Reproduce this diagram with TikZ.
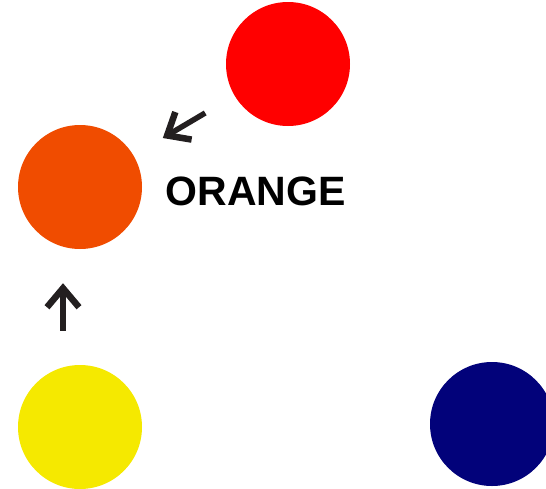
\documentclass[tikz,border=0pt]{standalone}
\usepackage{fontspec}
\setmainfont{Liberation Sans}
\usepackage{tikz}
\usetikzlibrary{arrows.meta,positioning,calc}

\definecolor{paintred}{RGB}{255,0,0}
\definecolor{paintorange}{RGB}{240,76,0}
\definecolor{paintyellow}{RGB}{245,233,0}
\definecolor{paintblue}{RGB}{2,2,122}
\definecolor{arrowgray}{RGB}{35,31,32}

\begin{document}
\begin{tikzpicture}[x=1pt, y=-1pt,
    blob/.style={circle, inner sep=0pt, minimum size=124pt},
    mix/.style={arrowgray, line width=5.5pt, shorten <=34pt, shorten >=34pt,
      -{Straight Barb[length=19pt, width=32pt, line width=6.5pt, sharp]}}]
    \useasboundingbox (0,0) rectangle (546,488);
    \node[blob, fill=paintred] (red) at (288,64) {};
    \node[blob, fill=paintorange] (orange) at (80,187) {};
    \node[blob, fill=paintyellow] (yellow) at (80,427) {};
    \node[blob, fill=paintblue] (blue) at (492,424) {};
    \draw[mix] (red) -- (orange);
    \draw[mix] ([xshift=-17pt]yellow.north) -- ([xshift=-17pt]orange.south);
    \node[anchor=base west, inner sep=0pt, font=\bfseries\fontsize{41}{41}\selectfont] (mixname) at (165.5,205) {ORANGE};
  \end{tikzpicture}
\end{document}
